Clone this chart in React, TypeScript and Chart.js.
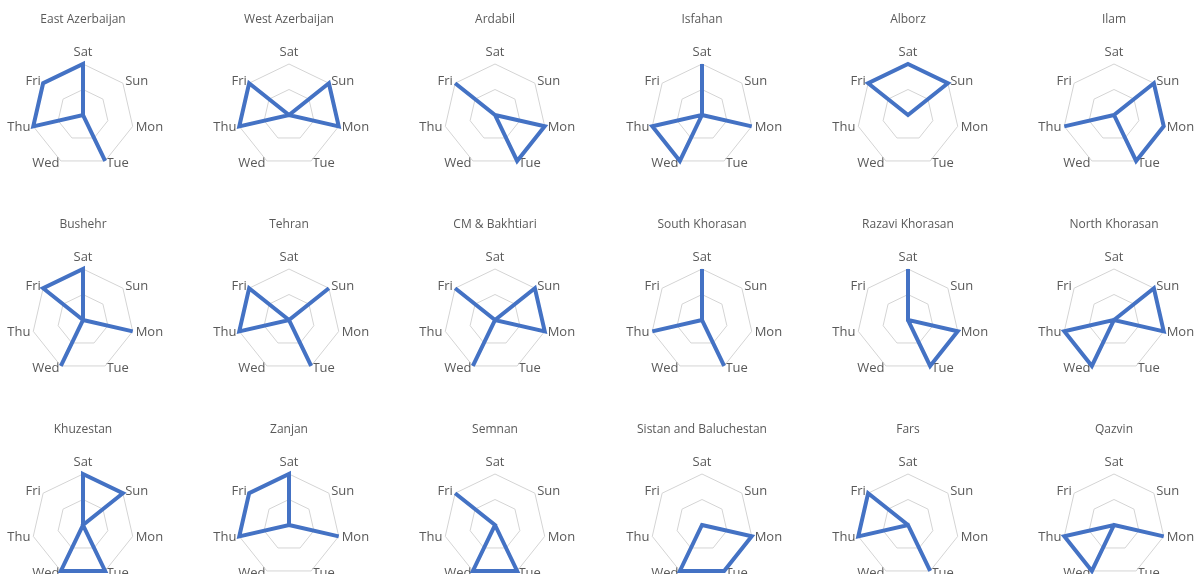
import React, { useEffect, useRef } from "react";
import { Chart, registerables } from "chart.js";

Chart.register(...registerables);

// Axis labels (days of week)
const days = ["Sat", "Sun", "Mon", "Tue", "Wed", "Thu", "Fri"];

// Panel titles
const provinces = [
  "East Azerbaijan", "West Azerbaijan", "Ardabil", "Isfahan", "Alborz", "Ilam",
  "Bushehr", "Tehran", "CM & Bakhtiari", "South Khorasan", "Razavi Khorasan", "North Khorasan",
  "Khuzestan", "Zanjan", "Semnan", "Sistan and Baluchestan", "Fars", "Qazvin",
];

// Values per province, in the order of `days`
const eastAzerbaijan = [1, 0, 0, 1, 0, 1, 1];
const westAzerbaijan = [0, 1, 1, 0, 0, 1, 1];
const ardabil = [0, 0, 1, 1, 0, 0, 1];
const isfahan = [1, 0, 1, 0, 1, 1, 0];
const alborz = [1, 1, 0, 0, 0, 0, 1];
const ilam = [0, 1, 1, 1, 0, 1, 0];
const bushehr = [1, 0, 1, 0, 1, 0, 1];
const tehran = [0, 1, 0, 1, 0, 1, 1];
const cmBakhtiari = [0, 1, 1, 0, 1, 0, 1];
const southKhorasan = [1, 0, 0, 1, 0, 1, 0];
const razaviKhorasan = [1, 0, 1, 1, 0, 0, 0];
const northKhorasan = [0, 1, 1, 0, 1, 1, 0];
const khuzestan = [1, 1, 0, 1, 1, 0, 0];
const zanjan = [1, 0, 1, 0, 0, 1, 1];
const semnan = [0, 0, 0, 1, 1, 0, 1];
const sistanBaluchestan = [0, 0, 1, 1, 1, 0, 0];
const fars = [0, 0, 0, 1, 0, 1, 1];
const qazvin = [0, 0, 1, 0, 1, 1, 0];

const seriesValues = [
  eastAzerbaijan, westAzerbaijan, ardabil, isfahan, alborz, ilam,
  bushehr, tehran, cmBakhtiari, southKhorasan, razaviKhorasan, northKhorasan,
  khuzestan, zanjan, semnan, sistanBaluchestan, fars, qazvin,
];

// Scale ticks
const scaleMin = 0;
const scaleMax = 1;
const scaleStep = 0.5;

const COLS = 6;
const CELL_W = 206;
const CELL_H = 205;
const COL_STEP = 206.2;
const ROW_STEP = 205;
const FIRST_CX = 83;

const FONT = "'Open Sans', 'DejaVu Sans', sans-serif";

function RadarCell({ title, values, left, top }: { title: string; values: number[]; left: number; top: number }) {
  const ref = useRef<HTMLCanvasElement | null>(null);
  useEffect(() => {
    if (!ref.current) return;
    const chart = new Chart(ref.current, {
      type: "radar",
      data: {
        labels: days,
        datasets: [
          {
            data: values,
            borderColor: "#4472C4",
            borderWidth: 4,
            pointRadius: 0,
            pointHoverRadius: 0,
            fill: false,
            tension: 0,
          },
        ],
      },
      options: {
        responsive: false,
        animation: false,
        devicePixelRatio: 1,
        layout: { padding: { top: 0, bottom: 33, left: 0, right: 0 } },
        plugins: {
          legend: { display: false },
          tooltip: { enabled: false },
          title: {
            display: true,
            text: title,
            color: "#595959",
            font: { family: FONT, size: 12, weight: "normal" },
            padding: { top: 12.3, bottom: 19.3 },
          },
        },
        scales: {
          r: {
            min: scaleMin,
            max: scaleMax,
            ticks: { display: false, stepSize: scaleStep },
            grid: { color: "#d4d4d4", lineWidth: 1 },
            angleLines: { display: false },
            pointLabels: {
              color: "#595959",
              font: { family: FONT, size: 13, lineHeight: 0 },
              padding: (ctx: any) => (ctx.index === 0 ? 12 : 3),
            },
          },
        },
      },
    } as any);
    return () => chart.destroy();
  }, [title, values]);
  return (
    <canvas
      ref={ref}
      width={CELL_W}
      height={CELL_H}
      style={{ position: "absolute", left, top, width: CELL_W, height: CELL_H }}
    />
  );
}

export default function App() {
  return (
    <div
      style={{
        position: "fixed",
        left: 0,
        top: 0,
        width: 1194,
        height: 574,
        overflow: "hidden",
        background: "#ffffff",
      }}
    >
      {provinces.map((name, i) => {
        const c = i % COLS;
        const r = Math.floor(i / COLS);
        const left = Math.round(FIRST_CX + COL_STEP * c) - CELL_W / 2;
        const top = ROW_STEP * r;
        return <RadarCell key={name} title={name} values={seriesValues[i]} left={left} top={top} />;
      })}
    </div>
  );
}
